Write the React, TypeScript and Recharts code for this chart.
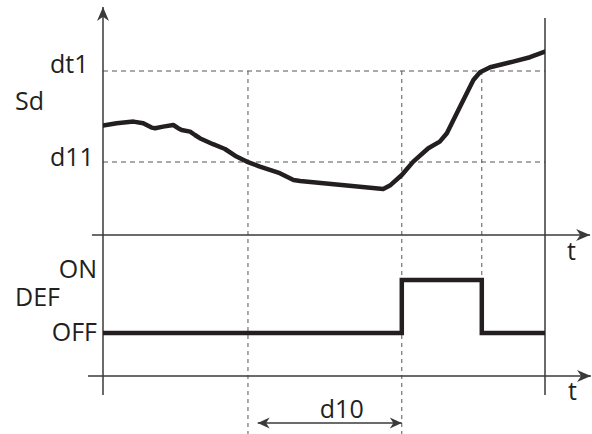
import React from 'react';
import { ComposedChart, Line, XAxis, YAxis, ReferenceLine, ReferenceDot } from 'recharts';

// time axis: 0 = vertical axis, 100 = right border of the diagram
const sdTime = [0, 3.1, 6.9, 9.1, 11.0, 11.8, 13.6, 15.9, 17.0, 17.8, 19.7, 20.8, 21.9, 24.9, 27.6, 30.2, 32.5, 35.5, 40.0, 43.1, 44.6, 63.4, 64.9, 67.6, 70.2, 73.6, 76.2, 77.8, 80.8, 83.8, 85.3, 87.6, 92.8, 96.6, 100];
const sdValues = [54.7, 55.9, 56.7, 55.9, 53.7, 53.4, 54.2, 55.0, 53.4, 52.5, 51.7, 50.0, 48.4, 45.4, 43.0, 39.2, 36.7, 34.2, 30.9, 27.5, 27.0, 23.0, 24.7, 30.0, 36.7, 43.4, 46.7, 50.9, 64.2, 77.5, 81.4, 83.9, 86.7, 88.9, 91.7];

// defrost output, 0 = OFF, 1 = ON
const defTime = [0, 67.6, 85.7, 100];
const defValues = [0, 1, 0, 0];

// thresholds on the Sd scale
const DT1 = 82;
const D11 = 36.5;

// moments on the time axis
const T_BELOW_D11 = 32.8; // Sd drops under d11, d10 starts counting
const T_DEF_START = 67.6;
const T_DEF_END = 85.7; // Sd reaches dt1
const T_END = 100;
const D10_FROM = 35;

const sdData = sdTime.map((t, i) => ({ t, sd: sdValues[i] }));
const defData = defTime.map((t, i) => ({ t, def: defValues[i] }));

const INK = '#231f20';
const AXIS = '#3a3a3a';
const GUIDE = '#555';
const FONT = { fontFamily: '"Open Sans", sans-serif', fontSize: 25, fill: INK };

// line with a barbed arrow head at the end (or both ends)
const arrowLine = (both = false, len = 14, half = 6) => (props: any) => {
  const { x1, y1, x2, y2 } = props;
  const head = (tx: number, ty: number, fx: number, fy: number) => {
    const a = Math.atan2(ty - fy, tx - fx);
    const c = Math.cos(a);
    const s = Math.sin(a);
    const bx = tx - len * c;
    const by = ty - len * s;
    const nx = tx - len * 0.7 * c;
    const ny = ty - len * 0.7 * s;
    return `${tx},${ty} ${bx - half * s},${by + half * c} ${nx},${ny} ${bx + half * s},${by - half * c}`;
  };
  return (
    <g>
      <line x1={x1} y1={y1} x2={x2} y2={y2} stroke={AXIS} strokeWidth={1.5} />
      <polygon points={head(x2, y2, x1, y1)} fill={AXIS} />
      {both && <polygon points={head(x1, y1, x2, y2)} fill={AXIS} />}
    </g>
  );
};

// text placed relative to the start / middle / end of a reference mark
const textAt = (text: string, dx: number, dy: number, anchor = 'start', from = 'start') => ({ viewBox }: any) => {
  const base = from === 'end' ? viewBox.x + viewBox.width : from === 'mid' ? viewBox.x + viewBox.width / 2 : viewBox.x;
  return (
    <text x={base + dx} y={viewBox.y + dy} textAnchor={anchor} style={FONT}>
      {text}
    </text>
  );
};

const App: React.FC = () => (
  <div style={{ width: 592, height: 434, background: '#fff' }}>
    <style>{'body{margin:0}'}</style>
    <ComposedChart width={592} height={434} margin={{ top: 12, right: 47, bottom: 39, left: 103 }}>
      <XAxis type="number" dataKey="t" domain={[0, T_END]} hide allowDataOverflow />
      <YAxis yAxisId="sd" type="number" domain={[-80, 111.5]} hide allowDataOverflow />
      <YAxis yAxisId="def" type="number" domain={[-1.17, 6.057]} hide allowDataOverflow />

      {/* threshold guides */}
      <ReferenceLine yAxisId="sd" segment={[{ x: 0, y: DT1 }, { x: T_END, y: DT1 }]} stroke={GUIDE} strokeDasharray="5 4" ifOverflow="visible" label={textAt('dt1', -53, 2)} />
      <ReferenceLine yAxisId="sd" segment={[{ x: 0, y: D11 }, { x: T_END, y: D11 }]} stroke={GUIDE} strokeDasharray="5 4" ifOverflow="visible" label={textAt('d11', -53, 4)} />
      <ReferenceLine yAxisId="sd" segment={[{ x: T_BELOW_D11, y: DT1 }, { x: T_BELOW_D11, y: -100 }]} stroke={GUIDE} strokeDasharray="4 4" ifOverflow="visible" />
      <ReferenceLine yAxisId="sd" segment={[{ x: T_DEF_START, y: DT1 }, { x: T_DEF_START, y: -100 }]} stroke={GUIDE} strokeDasharray="4 4" ifOverflow="visible" />
      <ReferenceLine yAxisId="sd" segment={[{ x: T_DEF_END, y: DT1 }, { x: T_DEF_END, y: -21 }]} stroke={GUIDE} strokeDasharray="4 4" ifOverflow="visible" />

      {/* axes */}
      <ReferenceLine yAxisId="sd" segment={[{ x: 0, y: -80 }, { x: 0, y: 114 }]} ifOverflow="visible" shape={arrowLine()} />
      <ReferenceLine yAxisId="sd" segment={[{ x: T_END, y: -80 }, { x: T_END, y: 108.5 }]} stroke={AXIS} strokeWidth={1.5} ifOverflow="visible" />
      <ReferenceLine yAxisId="sd" segment={[{ x: -2.5, y: 0 }, { x: 110.2, y: 0 }]} ifOverflow="visible" shape={arrowLine()} label={textAt('t', -23, 25, 'start', 'end')} />
      <ReferenceLine yAxisId="def" segment={[{ x: -3.4, y: -0.81 }, { x: 110.4, y: -0.81 }]} ifOverflow="visible" shape={arrowLine()} label={textAt('t', -23, 24, 'start', 'end')} />

      {/* d10 delay */}
      <ReferenceLine yAxisId="def" segment={[{ x: D10_FROM, y: -1.7 }, { x: T_DEF_START, y: -1.7 }]} ifOverflow="visible" shape={arrowLine(true, 12, 5.5)} label={textAt('d10', 12, -5, 'middle', 'mid')} />

      {/* axis titles and state names */}
      <ReferenceDot yAxisId="sd" x={0} y={62.5} r={0} ifOverflow="visible" label={textAt('Sd', -88, 0)} />
      <ReferenceDot yAxisId="def" x={0} y={0.5} r={0} ifOverflow="visible" label={textAt('DEF', -88, 0)} />
      <ReferenceDot yAxisId="def" x={0} y={1} r={0} ifOverflow="visible" label={textAt('ON', -6, -2, 'end')} />
      <ReferenceDot yAxisId="def" x={0} y={0} r={0} ifOverflow="visible" label={textAt('OFF', -6, 8, 'end')} />

      <Line yAxisId="sd" data={sdData} dataKey="sd" type="linear" stroke={INK} strokeWidth={4.5} dot={false} strokeLinejoin="round" strokeLinecap="round" isAnimationActive={false} />
      <Line yAxisId="def" data={defData} dataKey="def" type="stepAfter" stroke={INK} strokeWidth={4.5} dot={false} isAnimationActive={false} />
    </ComposedChart>
  </div>
);

export default App;
